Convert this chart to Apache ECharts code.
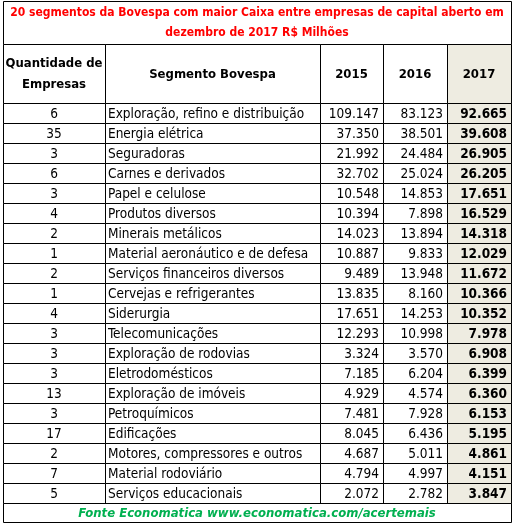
<!DOCTYPE html><html><head><meta charset="utf-8"><script src="https://cdn.jsdelivr.net/npm/echarts@6/dist/echarts.min.js"></script>
<style>html,body{margin:0;padding:0;background:#fff}#c{width:514px;height:525px}</style></head><body><div id="c"></div><script>
const title1 = "20 segmentos da Bovespa com maior Caixa entre empresas de capital aberto em";
const title2 = "dezembro de 2017 R$ Milhões";
const footer = "Fonte Economatica www.economatica.com/acertemais";
const headers = ["Quantidade de\nEmpresas","Segmento Bovespa","2015","2016","2017"];
const counts = ["6","35","3","6","3","4","2","1","2","1","4","3","3","3","13","3","17","2","7","5"];
const segments = ["Exploração, refino e distribuição","Energia elétrica","Seguradoras","Carnes e derivados","Papel e celulose","Produtos diversos","Minerais metálicos","Material aeronáutico e de defesa","Serviços financeiros diversos","Cervejas e refrigerantes","Siderurgia","Telecomunicações","Exploração de rodovias","Eletrodomésticos","Exploração de imóveis","Petroquímicos","Edificações","Motores, compressores e outros","Material rodoviário","Serviços educacionais"];
const v2015 = ["109.147","37.350","21.992","32.702","10.548","10.394","14.023","10.887","9.489","13.835","17.651","12.293","3.324","7.185","4.929","7.481","8.045","4.687","4.794","2.072"];
const v2016 = ["83.123","38.501","24.484","25.024","14.853","7.898","13.894","9.833","13.948","8.160","14.253","10.998","3.570","6.204","4.574","7.928","6.436","5.011","4.997","2.782"];
const v2017 = ["92.665","39.608","26.905","26.205","17.651","16.529","14.318","12.029","11.672","10.366","10.352","7.978","6.908","6.399","6.360","6.153","5.195","4.861","4.151","3.847"];

const colX = [3,105,320,383,447,511];
const headTop = 44, headBot = 103, rowH = 20;
const cols = [counts, segments, v2015, v2016, v2017];
const align = ['center','left','right','right','right'];
const cells = [];
cells.push([colX[0],colX[5],1,headTop,'', 'title']);
for(let c=0;c<5;c++) cells.push([colX[c],colX[c+1],headTop,headBot,headers[c],'head',c]);
for(let r=0;r<counts.length;r++){
  const y0=headBot+r*rowH;
  for(let c=0;c<5;c++) cells.push([colX[c],colX[c+1],y0,y0+rowH,cols[c][r],'body',c]);
}
const lastY = headBot+counts.length*rowH;
cells.push([colX[0],colX[5],lastY,522,'','footer']);
const FONT='"DejaVu Sans Condensed",sans-serif';
const chart = echarts.init(document.getElementById('c'));
chart.setOption({
  animation:false,
  grid:{left:0,right:0,top:0,bottom:0},
  xAxis:{type:'value',min:0,max:514,show:false},
  yAxis:{type:'value',min:0,max:525,inverse:true,show:false},
  series:[{type:'custom',data:cells,renderItem:function(p,api){
    const d=cells[p.dataIndex];
    const a=api.coord([d[0],d[2]]), b=api.coord([d[1],d[3]]);
    const kind=d[5], c=d[6];
    const children=[];
    const fill=(c===4 && kind!=='title' && kind!=='footer')?'#eeece1':'#fff';
    children.push({type:'rect',shape:{x:a[0]+0.5,y:a[1]+0.5,width:b[0]-a[0],height:b[1]-a[1]},style:{fill:fill,stroke:'#000',lineWidth:1}});
    if(kind==='title'){
      children.push({type:'text',style:{text:title1+'\n'+title2,x:(a[0]+b[0])/2,y:(a[1]+b[1])/2,align:'center',verticalAlign:'middle',fill:'#ff0000',font:'bold 12px '+FONT,lineHeight:20}});
    } else if(kind==='footer'){
      children.push({type:'text',style:{text:footer,x:(a[0]+b[0])/2,y:(a[1]+b[1])/2+1,align:'center',verticalAlign:'middle',fill:'#00b050',font:'italic bold 13px '+FONT}});
    } else if(kind==='head'){
      children.push({type:'text',style:{text:d[4],x:(a[0]+b[0])/2,y:(a[1]+b[1])/2+1,align:'center',verticalAlign:'middle',fill:'#000',font:'bold 13px '+FONT,lineHeight:21}});
    } else {
      const al=align[c];
      const x=al==='center'?(a[0]+b[0])/2:al==='left'?a[0]+3:b[0]-4;
      children.push({type:'text',style:{text:d[4],x:x,y:(a[1]+b[1])/2+1,align:al,verticalAlign:'middle',fill:'#000',font:(c===4?'bold ':'')+'13.5px '+FONT}});
    }
    return {type:'group',children:children};
  }}]
});
</script></body></html>
